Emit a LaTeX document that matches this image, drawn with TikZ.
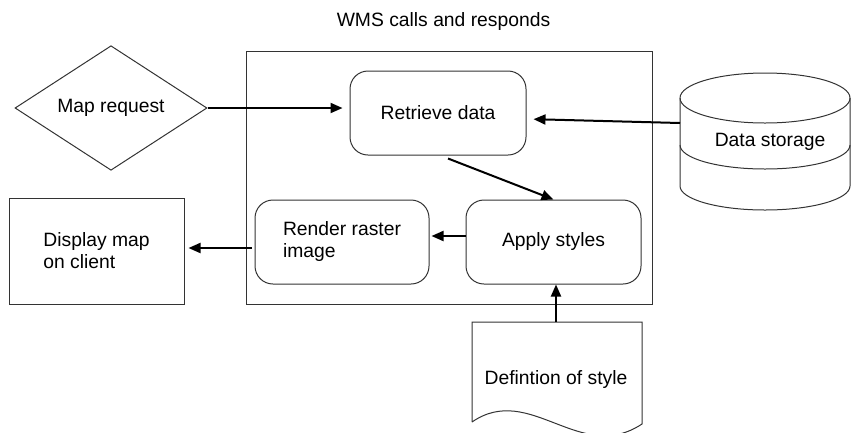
\documentclass[tikz,border=0pt]{standalone}
\usepackage{fontspec}
\setmainfont{Liberation Sans}
\usetikzlibrary{arrows.meta,shapes.geometric,calc}
\begin{document}
\begin{tikzpicture}[x=1pt,y=-1pt,
  every node/.style={font=\fontsize{19.3}{22}\selectfont, text=black},
  outline/.style={draw=black!80, line width=1pt},
  procbox/.style={outline, rounded corners=18pt, minimum width=175pt,
    minimum height=84pt, inner sep=0pt, align=left},
  flow/.style={draw=black, line width=2pt,
    -{Triangle[length=12pt,width=10pt]}},
]
\useasboundingbox (0,0) rectangle (853,432);

% WMS frame and its caption
\node[outline, minimum width=406pt, minimum height=253pt, inner sep=0pt]
  (wms) at (449,177.5) {};
\node (title) at (443.5,22) {WMS calls and responds};

% request, process steps and client
\node[diamond, outline, minimum width=192pt, minimum height=107pt, inner sep=0pt]
  (req) at (111,108) {Map request};
\node[procbox, minimum width=176pt] (ret) at (438,113) {Retrieve data};
\node[procbox] (apply) at (553.5,242) {Apply styles};
\node[procbox, minimum width=174pt] (render) at (342,242) {Render raster\\image};
\node[outline, minimum width=175pt, minimum height=106pt, inner sep=0pt, align=left]
  (disp) at (96.5,251) {Display map\\on client};

% data storage cylinder
\draw[outline] (765,98) ellipse[x radius=85pt, y radius=25pt];
\draw[outline] (680,98) -- (680,186)
  arc[start angle=180, end angle=360, x radius=85pt, y radius=24pt] -- (850,98);
\draw[outline] (680,145)
  arc[start angle=180, end angle=360, x radius=85pt, y radius=24pt];
\node (store) at (770,142) {Data storage};
\coordinate (storeport) at (680,123);

% style definition document
\draw[outline] (472,422) -- (472,322) -- (642,322) -- (642,424)
  .. controls (580,465) and (530,382) .. (472,422);
\node (doc) at (556,379) {Defintion of style};
\coordinate (doctop) at (556,322);

% connectors
\draw[flow, shorten >=7pt] (req.east) -- (req.east -| ret.west);
\draw[flow, shorten >=7pt] (storeport) -- ($(ret.east)+(0,6)$);
\draw[flow] ($(ret.south)+(10,3)$) -- (apply.north);
\draw[flow, shorten >=2pt] ($(apply.west)+(0,-6)$) -- ($(render.east)+(0,-6)$);
\draw[flow, shorten >=4pt] ($(render.west)+(-3,6)$) -- ($(disp.east)+(0,-3)$);
\draw[flow] (doctop) -- (doctop |- apply.south);
\end{tikzpicture}
\end{document}
